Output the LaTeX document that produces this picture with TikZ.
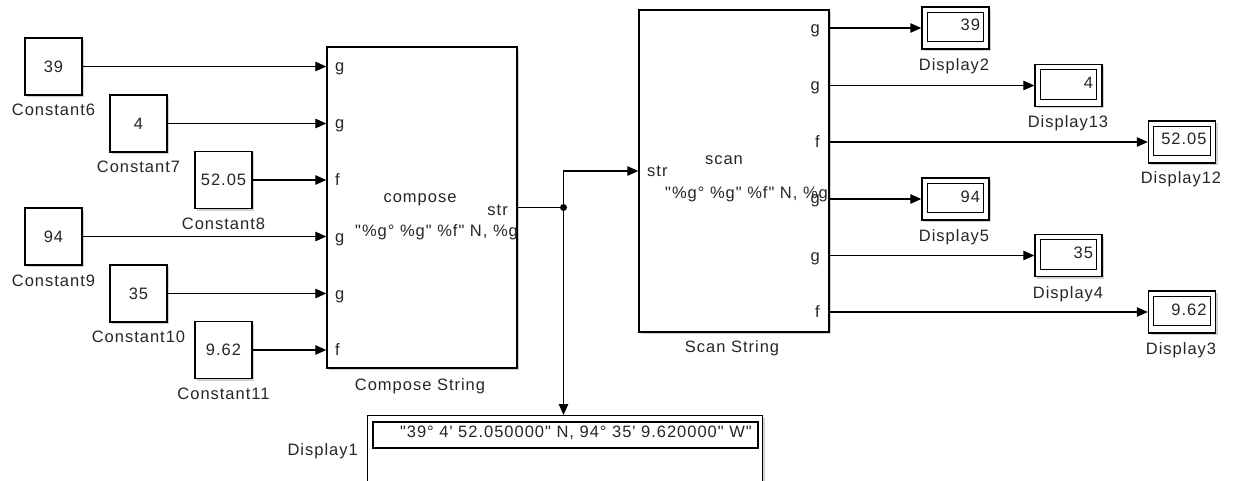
\documentclass[tikz,border=0pt]{standalone}
\usepackage{fontspec}
\setmainfont{Liberation Sans}[LetterSpace=6, Ligatures=TeXOff]
\usetikzlibrary{arrows.meta,shadows}
\newcommand\dq{\char34\relax}
\newcommand\sq{\char39\relax}
\begin{document}
\begin{tikzpicture}[x=1pt,y=-1pt,
  font=\fontsize{16.5}{19}\selectfont,
  txt/.style={inner sep=0pt, text=black!85},
  blk/.style={draw, line width=1.4pt, fill=white, inner sep=0pt,
    drop shadow={shadow xshift=2pt, shadow yshift=-2pt, fill=black!40, opacity=0.45}},
  cst/.style={blk, minimum width=57pt, minimum height=57pt, text=black!85},
  disp/.style={blk, minimum width=67pt, minimum height=42pt},
  inbox/.style={draw, line width=1.2pt},
  lbl/.style={txt, anchor=base},
  port/.style={txt, anchor=base west},
  rport/.style={txt, anchor=base east},
  arr/.style={line width=1.2pt, -{Triangle[length=11pt,width=9.5pt]}},
  wire/.style={line width=1.2pt}]
\useasboundingbox (0,0) rectangle (1233,481);

% Constants
\node[cst] (c6)  at (53.5,66.5)  {39};
\node[cst] (c7)  at (138.5,123.5) {4};
\node[cst] (c8)  at (223.5,180)   {52.05};
\node[cst] (c9)  at (53.5,236.5)  {94};
\node[cst] (c10) at (138.5,293.5) {35};
\node[cst] (c11) at (223.5,350)   {9.62};
\node[lbl] (lc6)  at (53.5,116)  {Constant6};
\node[lbl] (lc7)  at (138.5,172.5) {Constant7};
\node[lbl] (lc8)  at (223.5,229) {Constant8};
\node[lbl] (lc9)  at (53.5,286)  {Constant9};
\node[lbl] (lc10) at (138.5,342.5) {Constant10};
\node[lbl] (lc11) at (223.5,399) {Constant11};

% Compose String block
\node[blk, minimum width=190pt, minimum height=321pt] (cs) at (422,207.5) {};
\node[lbl] (lcs) at (420,390) {Compose String};
\node[lbl] (tcs) at (420,203) {compose};
\begin{scope}
  \clip (cs.north west) rectangle (cs.south east);
  \node[port] (fcs) at (355,236) {\dq\%g° \%g\dq\ \%f\dq\ N, \%g° \%g\dq\ \%f\dq\ W\dq};
\end{scope}
\node[port] (p1) at (335,72) {g};
\node[port] (p2) at (335,129) {g};
\node[port] (p3) at (335,185.5) {f};
\node[port] (p4) at (335,242) {g};
\node[port] (p5) at (335,299) {g};
\node[port] (p6) at (335,355.5) {f};
\node[rport] (pstr) at (508,215) {str};

% Scan String block
\node[blk, minimum width=190pt, minimum height=322pt] (ss) at (734,171) {};
\node[lbl] (lss) at (732,352) {Scan String};
\node[lbl] (tss) at (724,165) {scan};
\begin{scope}
  \clip (ss.north west) rectangle (ss.south east);
  \node[port] (fss) at (665,198) {\dq\%g° \%g\dq\ \%f\dq\ N, \%g° \%g\dq\ \%f\dq\ W\dq};
\end{scope}
\node[port] (sstr) at (647,177) {str};
\node[rport] (q1) at (820,34) {g};
\node[rport] (q2) at (820,91) {g};
\node[rport] (q3) at (820,147.5) {f};
\node[rport] (q4) at (820,204) {g};
\node[rport] (q5) at (820,261) {g};
\node[rport] (q6) at (820,317.5) {f};

% Displays
\node[disp] (d2)  at (955.5,28)   {};
\node[disp] (d13) at (1068.5,85.5) {};
\node[disp] (d12) at (1182,142)   {};
\node[disp] (d5)  at (955.5,199)  {};
\node[disp] (d4)  at (1068.5,255.5) {};
\node[disp] (d3)  at (1182,312)   {};
\foreach \d/\v in {d2/39,d13/4,d12/52.05,d5/94,d4/35,d3/9.62}{
  \draw[inbox] ([shift={(6,6)}]\d.north west) rectangle ([shift={(-6,-8)}]\d.south east);
  \node[rport] at ([shift={(-9.5,3)}]\d.east) {\v};
}
\node[lbl] (ld2)  at (954,71)   {Display2};
\node[lbl] (ld13) at (1068,128) {Display13};
\node[lbl] (ld12) at (1181,184) {Display12};
\node[lbl] (ld5)  at (954,241)  {Display5};
\node[lbl] (ld4)  at (1068,298) {Display4};
\node[lbl] (ld3)  at (1181,354) {Display3};

% Display1 (cut by the lower edge)
\begin{scope}
  \clip (0,0) rectangle (1233,481);
  \node[blk, anchor=north west, minimum width=395pt, minimum height=100pt] (d1) at (367,415) {};
  \draw[inbox] (373,422) rectangle (758,448);
  \node[rport] (vd1) at (752,437) {\dq 39° 4\sq\ 52.050000\dq\ N, 94° 35\sq\ 9.620000\dq\ W\dq};
\end{scope}
\node[rport] (ld1) at (358,455) {Display1};

% Connectors
\foreach \c in {c6,c7,c8,c9,c10,c11}{
  \draw[arr] (\c.east) -- (\c.east -| cs.west);
}
\foreach \d in {d2,d13,d12,d5,d4,d3}{
  \draw[arr] (\d.west -| ss.east) -- (\d.west);
}
\coordinate (j) at (563.5,207.5);
\draw[wire] (cs.east) -- (j);
\draw[arr] (j) |- (ss.west);
\draw[arr] (j) -- (j |- d1.north);
\fill (j) circle (3.5pt);
\end{tikzpicture}
\end{document}
